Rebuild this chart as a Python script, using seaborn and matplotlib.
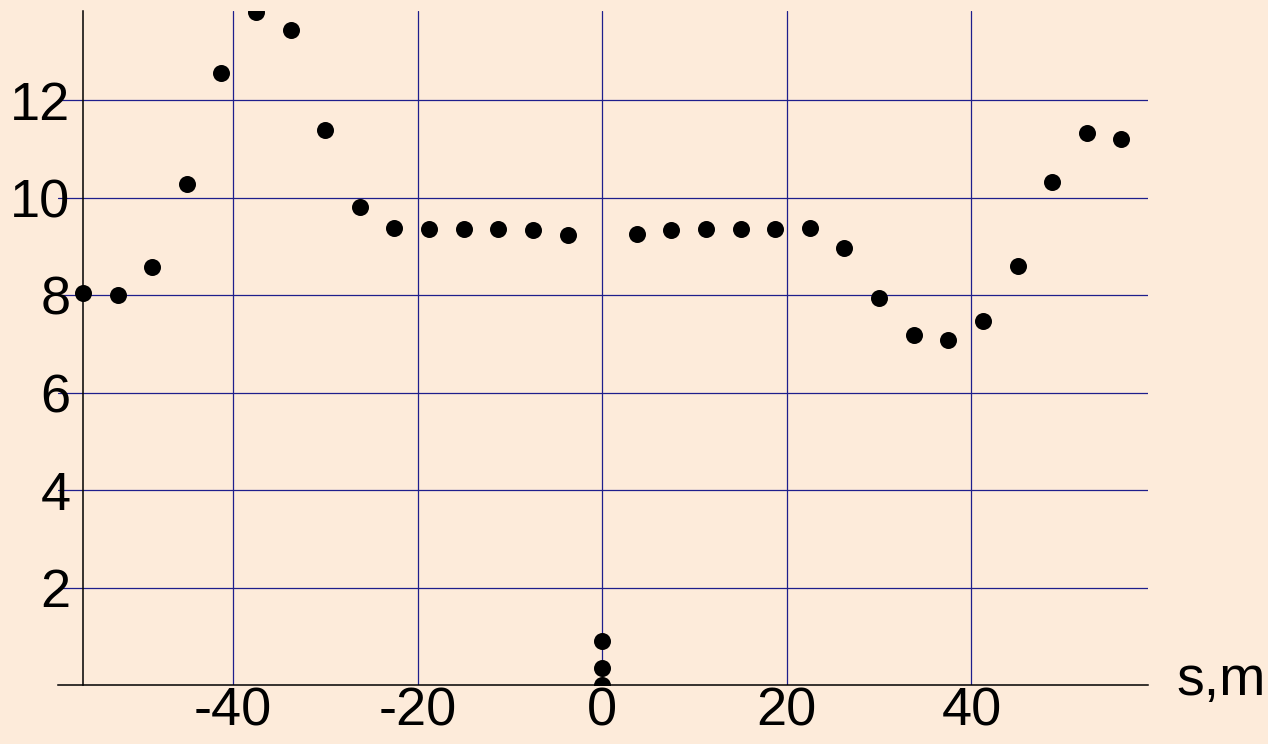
import matplotlib
matplotlib.use('Agg')
import matplotlib.pyplot as plt
import seaborn as sns
import pandas as pd
from matplotlib.ticker import FixedLocator

# ---- data ----
s_m = [-56.25, -52.5, -48.75, -45.0, -41.25, -37.5, -33.75, -30.0, -26.25,
       -22.5, -18.75, -15.0, -11.25, -7.5, -3.75,
       0.0, 0.0, 0.0,
       3.75, 7.5, 11.25, 15.0, 18.75, 22.5, 26.25, 30.0, 33.75, 37.5,
       41.25, 45.0, 48.75, 52.5, 56.25]
values = [8.04, 8.00, 8.58, 10.28, 12.55, 13.80, 13.45, 11.39, 9.81,
          9.37, 9.35, 9.35, 9.35, 9.33, 9.24,
          0.91, 0.35, 0.0,
          9.25, 9.33, 9.35, 9.35, 9.36, 9.37, 8.96, 7.95, 7.18, 7.09,
          7.47, 8.61, 10.32, 11.32, 11.21]
x_major = [-40, -20, 0, 20, 40]
x_minor = [-55, -50, -45, -35, -30, -25, -15, -10, -5, 5, 10, 15, 25, 30, 35, 45, 50, 55]
y_major = [2, 4, 6, 8, 10, 12]
y_minor = [0.5, 1, 1.5, 2.5, 3, 3.5, 4.5, 5, 5.5, 6.5, 7, 7.5, 8.5, 9, 9.5,
           10.5, 11, 11.5, 12.5, 13, 13.5]
x_label = "s,m"

df = pd.DataFrame({"s": s_m, "v": values})

BG = "#FDEBDA"
GRID = "#1e1e8c"

sns.set_theme(style="white")
plt.rcParams['font.family'] = ['Liberation Sans', 'DejaVu Sans']
plt.rcParams['axes.unicode_minus'] = False

fig = plt.figure(figsize=(12.68, 7.44), dpi=100, facecolor=BG)
ax = fig.add_axes([57.5 / 1268, (744 - 685.3) / 744,
                   (1147.7 - 57.5) / 1268, (685.3 - 11) / 744])
ax.set_facecolor(BG)

sns.scatterplot(data=df, x="s", y="v", ax=ax, color="black", s=150,
                linewidth=0, zorder=3, legend=False)

ax.set_xlim(-59.0, 59.1)
ax.set_ylim(0, 13.83)

ax.xaxis.set_major_locator(FixedLocator(x_major))
ax.xaxis.set_minor_locator(FixedLocator(x_minor))
ax.yaxis.set_major_locator(FixedLocator(y_major))
ax.yaxis.set_minor_locator(FixedLocator(y_minor))
ax.set_xticklabels([str(v) for v in x_major])
ax.set_yticklabels([str(v) for v in y_major])

ax.grid(True, which="major", color=GRID, linewidth=0.9, zorder=1)
ax.set_axisbelow(True)

for sp in ["top", "right"]:
    ax.spines[sp].set_visible(False)
ax.spines["left"].set_position(("data", s_m[0]))
ax.spines["bottom"].set_position(("data", 0))
for sp in ["left", "bottom"]:
    ax.spines[sp].set_color("black")
    ax.spines[sp].set_linewidth(1.1)
    ax.spines[sp].set_zorder(4)

ax.tick_params(axis="both", which="major", direction="in", length=5,
               width=1.0, color="black", labelsize=39, labelcolor="black")
ax.tick_params(axis="both", which="minor", direction="in", length=3,
               width=0.8, color="#333333")
ax.tick_params(axis="x", which="major", pad=1)
ax.tick_params(axis="y", which="major", pad=9)

ax.set_xlabel("")
ax.set_ylabel("")
ax.text(1.026, -0.0151, x_label, transform=ax.transAxes, fontsize=40,
        ha="left", va="baseline", color="black")

fig.savefig("out.png", dpi=100, facecolor=BG)
